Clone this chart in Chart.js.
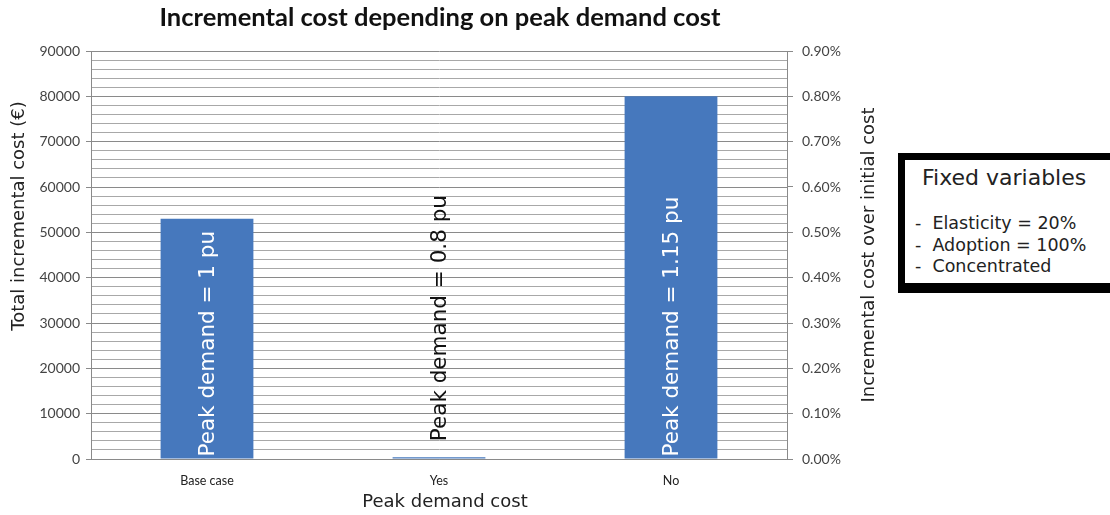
<!DOCTYPE html>
<html>
<head>
<meta charset="utf-8">
<script src="https://cdn.jsdelivr.net/npm/chart.js@4.4.1/dist/chart.umd.min.js"></script>
<style>
  html, body { margin: 0; padding: 0; background: #ffffff; }
  #wrap { position: relative; width: 1110px; height: 515px; overflow: hidden; }
  #chart { position: absolute; left: 0; top: 0; }
  #fixed {
    position: absolute; left: 898px; top: 153px; width: 230px; height: 123px;
    border: 7px solid #000; border-bottom-width: 10px; background: #fff;
    font-family: "DejaVu Sans", sans-serif; color: #222; box-sizing: content-box;
  }
  #fixed .head { position: absolute; left: 17px; top: 5px; font-size: 22px; white-space: nowrap; }
  #fixed ul { list-style: none; margin: 0; padding: 0; position: absolute; left: 10px; top: 53px; font-size: 17.5px; line-height: 21.5px; white-space: nowrap; }
</style>
</head>
<body>
<div id="wrap">
  <canvas id="chart" width="1110" height="515"></canvas>
  <div id="fixed">
    <div class="head">Fixed variables</div>
    <ul>
      <li>-&nbsp; Elasticity = 20%</li>
      <li>-&nbsp; Adoption = 100%</li>
      <li>-&nbsp; Concentrated</li>
    </ul>
  </div>
</div>
<script>
// Categories and values
const categories = ["Base case", "Yes", "No"];
const incrementalCost = [53000, 400, 80000];
const barLabels = ["Peak demand = 1 pu", "Peak demand = 0.8 pu", "Peak demand = 1.15 pu"];
const leftTicks = [0, 10000, 20000, 30000, 40000, 50000, 60000, 70000, 80000, 90000];
const rightTicks = ["0.00%", "0.10%", "0.20%", "0.30%", "0.40%", "0.50%", "0.60%", "0.70%", "0.80%", "0.90%"];

const chartTitle = "Incremental cost depending on peak demand cost";
const leftTitle = "Total incremental cost (\u20AC)";
const rightTitle = "Incremental cost over initial cost";
const xTitle = "Peak demand cost";

const BAR_COLOR = "#4678bd";
const MAJOR = "#8a8a8a";
const MINOR = "#a8a8a8";

// Titles and in-bar labels drawn on top of the chart
const annotate = {
  id: "annotate",
  afterDatasetsDraw(chart) {
    const ctx = chart.ctx;
    const meta = chart.getDatasetMeta(0);
    ctx.save();
    ctx.font = '21.5px "DejaVu Sans", sans-serif';
    ctx.textBaseline = "middle";
    ctx.textAlign = "left";
    meta.data.forEach((bar, i) => {
      const w = ctx.measureText(barLabels[i]).width;
      const inside = (bar.base - bar.y) > w + 6;
      const startY = inside ? bar.base - 2 : bar.y - 16;
      ctx.save();
      ctx.translate(bar.x, startY);
      ctx.rotate(-Math.PI / 2);
      ctx.fillStyle = inside ? "#ffffff" : "#111111";
      ctx.fillText(barLabels[i], 0, 1);
      ctx.restore();
    });
    ctx.restore();
  },
  afterDraw(chart) {
    const ctx = chart.ctx;
    const area = chart.chartArea;
    const midY = (area.top + area.bottom) / 2;
    ctx.save();
    ctx.fillStyle = "#111";
    ctx.textAlign = "center";
    ctx.textBaseline = "middle";
    ctx.font = 'bold 25.5px Lato, sans-serif';
    ctx.fillText(chartTitle, 440, 18);

    ctx.fillStyle = "#222";
    ctx.font = '18px "DejaVu Sans", sans-serif';
    ctx.fillText(xTitle, 445, 502);

    ctx.save();
    ctx.translate(19, 216);
    ctx.rotate(-Math.PI / 2);
    ctx.fillText(leftTitle, 0, 0);
    ctx.restore();

    ctx.save();
    ctx.translate(869, midY);
    ctx.rotate(-Math.PI / 2);
    ctx.fillText(rightTitle, 0, 0);
    ctx.restore();
    ctx.restore();
  }
};

new Chart(document.getElementById("chart"), {
  type: "bar",
  data: {
    labels: categories,
    datasets: [{
      data: incrementalCost,
      backgroundColor: BAR_COLOR,
      borderWidth: 0,
      barPercentage: 0.4,
      categoryPercentage: 1.0,
      yAxisID: "y"
    }]
  },
  options: {
    responsive: false,
    animation: false,
    devicePixelRatio: 1,
    layout: { padding: { top: 51, left: 0, right: 323 - 70, bottom: 0 } },
    plugins: {
      legend: { display: false },
      title: { display: false },
      tooltip: { enabled: false }
    },
    scales: {
      x: {
        grid: { display: false, drawTicks: false },
        border: { display: true, color: MAJOR },
        ticks: { color: "#222", font: { family: "Lato, sans-serif", size: 12.5 }, padding: 14 },
        afterFit(scale) { scale.height = 56; }
      },
      y: {
        position: "left",
        min: 0,
        max: 90000,
        border: { display: true, color: MAJOR },
        grid: {
          color: (c) => (c.tick && c.tick.value % 10000 === 0) ? MAJOR : MINOR,
          tickColor: (c) => (c.tick && c.tick.value % 10000 === 0) ? MAJOR : "rgba(0,0,0,0)",
          tickLength: 5
        },
        ticks: {
          stepSize: 2000,
          autoSkip: false,
          padding: 6,
          color: "#444",
          font: { family: "Lato, sans-serif", size: 14 },
          callback: (v) => leftTicks.includes(v) ? String(v) : ""
        },
        afterFit(scale) { scale.width = 91; }
      },
      y2: {
        position: "right",
        display: true,
        min: 0,
        max: 0.009,
        border: { display: true, color: MAJOR },
        grid: { drawOnChartArea: false, color: MAJOR, tickLength: 6 },
        ticks: {
          stepSize: 0.001,
          autoSkip: false,
          padding: 9,
          color: "#444",
          font: { family: "Lato, sans-serif", size: 14 },
          callback: (v, i) => rightTicks[i] !== undefined ? rightTicks[i] : ""
        },
        afterFit(scale) { scale.width = 70; }
      }
    }
  },
  plugins: [annotate]
});
</script>
</body>
</html>
